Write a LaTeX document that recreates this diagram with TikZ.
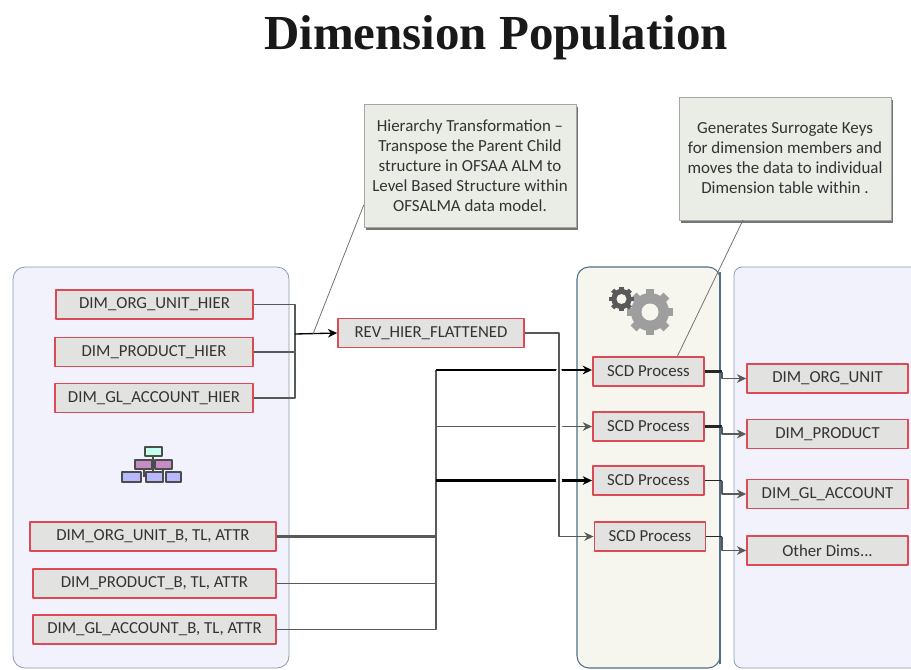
\documentclass[tikz,border=0pt]{standalone}
\usepackage{fontspec}
\setmainfont{Carlito}
\newfontfamily\titlefont{Liberation Serif}
\usetikzlibrary{shadows,arrows.meta}
\definecolor{leftpanel}{HTML}{F1F2FB}
\definecolor{midpanel}{HTML}{F7F6EE}
\definecolor{panelline}{HTML}{8A9BAA}
\definecolor{midline}{HTML}{4F6F86}
\definecolor{boxfill}{HTML}{E2E3E0}
\definecolor{boxline}{HTML}{DB4A57}
\definecolor{notefill}{HTML}{E9EDE5}
\tikzset{
	tablebox/.style={draw=boxline,fill=boxfill,line width=1.2pt,inner sep=0pt,text=black!80,font=\fontsize{12.6}{14}\selectfont},
	notebox/.style={draw=black!35,fill=notefill,inner sep=0pt,text=black!80,align=center,
		font=\fontsize{12.7}{15}\selectfont,drop shadow={shadow xshift=1.5pt,shadow yshift=-2pt,fill=black!60,opacity=.9}},
	link/.style={draw=black!65,line width=1pt},
	linkarrow/.style={link,-{Stealth[length=7pt,width=6.5pt]}},
	heavy/.style={draw=black,line width=1.6pt},
	noteline/.style={draw=black!55,line width=.6pt},
	chartbox/.style={draw=black!70,line width=.9pt},
}
\begin{document}
\begin{tikzpicture}[x=.75pt,y=-.75pt,>=stealth,line join=round]
	\useasboundingbox (0,0) rectangle (911,669);
	\node[font=\titlefont\bfseries\fontsize{36.7}{40}\selectfont,text=black!90] (title) at (496,38) {Dimension Population};
	% panels
	\filldraw[fill=leftpanel,draw=panelline,rounded corners=9pt,line width=.6pt] (13,267) rectangle (289,668);
	\filldraw[fill=midpanel,draw=midline,rounded corners=9pt,line width=.8pt] (577,267) rectangle (720,668);
	\draw[midline,line width=1.5pt] (720,272)--(720,664);
	\filldraw[fill=leftpanel,draw=panelline,rounded corners=6pt,line width=.6pt] (911,668)--(734,668)--(734,267)--(911,267);
	% tables
	\foreach \nm/\cx/\cy/\wid/\txt in {
		orghier/154.5/304.5/197/DIM\_ORG\_UNIT\_HIER,
		prodhier/154/352/198/DIM\_PRODUCT\_HIER,
		glhier/154/398/198/DIM\_GL\_ACCOUNT\_HIER,
		orgbase/153/536.5/246/{DIM\_ORG\_UNIT\_B, TL, ATTR},
		prodbase/154.5/583.5/243/{DIM\_PRODUCT\_B, TL, ATTR},
		glbase/154.5/629.5/243/{DIM\_GL\_ACCOUNT\_B, TL, ATTR},
		flat/431/333/186/REV\_HIER\_FLATTENED,
		dimorg/827.5/378.5/161/DIM\_ORG\_UNIT,
		dimprod/827.5/434/161/DIM\_PRODUCT,
		dimgl/827.5/494/161/DIM\_GL\_ACCOUNT,
		dimother/827.5/550.5/161/{Other Dims{.}{.}{.}}}
	\node[tablebox,minimum width=\wid*.75pt,minimum height=21.5pt] (\nm) at (\cx,\cy) {\txt};
	\foreach \nm/\cx/\cy in {scdone/648.5/371.5,scdtwo/648.5/426.5,scdthree/648.5/480.5,scdfour/650/536.5}
	\node[tablebox,minimum width=83.5pt,minimum height=21.5pt] (\nm) at (\cx,\cy) {SCD Process};
	% notes
	\node[notebox,minimum width=159pt,minimum height=92pt] (noteh) at (470,166) {Hierarchy Transformation --\\Transpose the Parent Child\\structure in OFSAA ALM to\\Level Based Structure within\\OFSALMA data model.};
	\node[notebox,minimum width=159pt,minimum height=92pt] (notes) at (785,158.5) {Generates Surrogate Keys\\for dimension members and\\moves the data to individual\\Dimension table within .};
	% bus lines
	\coordinate (hierbus) at (295,334);
	\coordinate (basebus) at (436,370);
	\coordinate (flatbus) at (559,334);
	\coordinate (outbus) at (722,370);
	\draw[link] (orghier.east) -| (hierbus);
	\draw[link] (prodhier.east) -- (prodhier.east -| hierbus);
	\draw[link] (glhier.east) -| (hierbus);
	\draw[linkarrow,draw=black] (hierbus) -- (flat.west);
	\draw[link,line width=1.6pt] (orgbase.east) -- (orgbase.east -| basebus);
	\draw[link] (prodbase.east) -- (prodbase.east -| basebus);
	\draw[link] (glbase.east) -| (basebus);
	\draw[linkarrow,heavy] (basebus) -- (basebus -| scdone.west);
	\draw[linkarrow] (basebus |- scdtwo.west) -- (scdtwo.west);
	\draw[linkarrow,heavy] (basebus |- scdthree.west) -- (scdthree.west);
	\foreach \nm in {scdone,scdtwo,scdthree}
	\fill[white] (flatbus |- \nm.west) circle[radius=3.2];
	\draw[linkarrow] (flat.east) -| (flatbus) |- (scdfour.west);
	% outputs
	\foreach \from/\to/\lw in {scdone/dimorg/1.6,scdtwo/dimprod/1.6,scdthree/dimgl/1.1,scdfour/dimother/1.1}{
		\draw[link,draw=black!85,line width=\lw pt] (\from.east) -- (\from.east -| outbus);
		\draw[linkarrow] (\from.east -| outbus) |- (\to.west);
	}
	% callout lines
	\coordinate (noteha) at (313,334);
	\coordinate (noteso) at (743,220);
	\coordinate (scdtip) at (677,357);
	\draw[noteline] (noteh.west |- 0,205) -- (noteha);
	\draw[noteline] (noteso) -- (scdtip);
	% gears
	\foreach \gx/\gy/\grad/\gcol/\ghole in {650/312/19/black!38/8.5,621.5/299/10.2/black!65/5}{
		\foreach \ang in {0,45,...,315}
		\fill[\gcol,rotate around={\ang:(\gx,\gy)}] (\gx-\grad*.22,\gy-\grad*1.22) rectangle (\gx+\grad*.22,\gy);
		\fill[\gcol] (\gx,\gy) circle[radius=\grad];
		\fill[midpanel] (\gx,\gy) circle[radius=\ghole];
	}
	% chart icon
	\draw[chartbox] (153,456)--(153,477) (144,465)--(144,477) (163,465)--(163,477);
	\filldraw[chartbox,fill=green!30!cyan!25] (145,447) rectangle (162,456);
	\foreach \bx in {135,155}
	\filldraw[chartbox,fill=violet!45] (\bx,460) rectangle (\bx+17,469);
	\foreach \bx/\bw in {122/19,146/17,166/15}
	\filldraw[chartbox,fill=blue!28] (\bx,472) rectangle (\bx+\bw,482);
\end{tikzpicture}
\end{document}
